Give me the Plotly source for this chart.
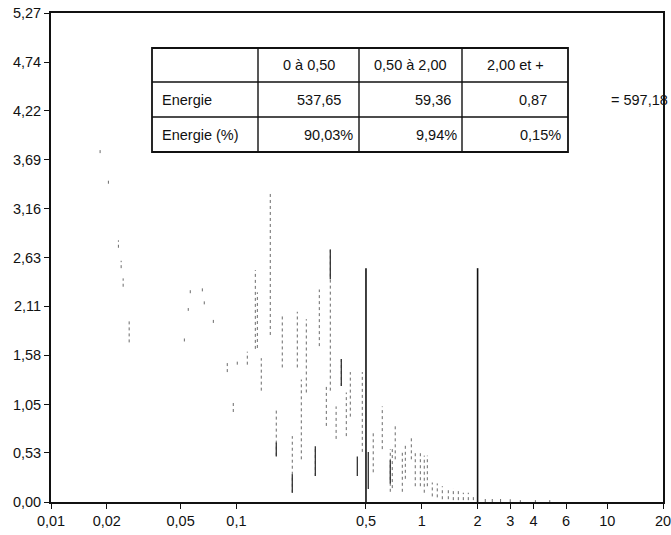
import plotly.graph_objects as go

# ---------------- data ----------------
# faint spectral lines: frequency, low and high value of the visible segment
faint_freq = [0.0184, 0.0204, 0.0231, 0.0239, 0.0245, 0.0264, 0.0524, 0.055, 0.0564,
              0.0655, 0.0671, 0.0751, 0.0893, 0.0962, 0.1011, 0.1145, 0.1265, 0.1297,
              0.1362, 0.1523, 0.1641, 0.1768, 0.2002, 0.2131, 0.2239, 0.2383, 0.2665,
              0.280, 0.3055, 0.321, 0.345, 0.368, 0.3915, 0.4115, 0.4776, 0.547, 0.612,
              0.676, 0.693, 0.719, 0.785, 0.815, 0.878, 0.922, 0.982, 1.031, 1.071,
              1.139, 1.212, 1.29, 1.39, 1.479, 1.574, 1.675, 1.782, 1.897, 2.2, 2.4,
              2.66, 3.0, 3.4, 4.1, 4.9]
faint_lo = [3.76, 3.43, 2.74, 2.52, 2.32, 1.72, 1.73, 2.06, 2.25,
            2.27, 2.13, 1.93, 1.40, 0.97, 1.48, 1.48, 1.65, 1.66,
            1.20, 1.80, 0.50, 1.45, 0.10, 1.45, 0.46, 1.18, 0.28,
            1.68, 0.82, 1.20, 0.68, 1.25, 0.71, 0.92, 0.54, 0.32, 0.57,
            0.11, 0.15, 0.46, 0.11, 0.25, 0.46, 0.17, 0.17, 0.10, 0.17,
            0.06, 0.05, 0.03, 0.03, 0.02, 0.02, 0.02, 0.02, 0.02, 0.00, 0.00,
            0.00, 0.00, 0.00, 0.00, 0.00]
faint_hi = [3.80, 3.47, 2.82, 2.60, 2.41, 1.95, 1.77, 2.09, 2.29,
            2.31, 2.17, 1.98, 1.52, 1.08, 1.53, 1.62, 2.50, 2.26,
            1.55, 3.33, 1.00, 2.00, 0.71, 2.05, 1.32, 1.97, 0.60,
            2.29, 1.25, 2.72, 1.03, 1.54, 1.18, 1.40, 1.40, 0.75, 1.03,
            0.57, 0.57, 0.82, 0.54, 0.62, 0.70, 0.54, 0.54, 0.50, 0.50,
            0.21, 0.20, 0.17, 0.14, 0.15, 0.12, 0.10, 0.10, 0.08, 0.06, 0.04,
            0.04, 0.03, 0.02, 0.02, 0.02]

# dark (dense) parts of the spectral lines
dark_freq = [0.1641, 0.2002, 0.2665, 0.321, 0.368, 0.449, 0.5145, 0.676]
dark_lo = [0.49, 0.10, 0.28, 2.40, 1.25, 0.28, 0.14, 0.20]
dark_hi = [0.64, 0.30, 0.60, 2.72, 1.54, 0.49, 0.54, 0.45]

# band limits drawn as vertical lines
band_edges = [0.5, 2.0]
band_line_height = 2.52

# table contents
bands = ["0 à 0,50", "0,50 à 2,00", "2,00 et +"]
energie = [537.65, 59.36, 0.87]
energie_pct = [90.03, 9.94, 0.15]
energie_total = 597.18

# axis ticks
x_tickvals = [0.01, 0.02, 0.05, 0.1, 0.5, 1, 2, 3, 4, 6, 10, 20]
x_ticktext = ["0,01", "0,02", "0,05", "0,1", "0,5", "1", "2", "3", "4", "6", "10", "20"]
y_tickvals = [0.00, 0.53, 1.05, 1.58, 2.11, 2.63, 3.16, 3.69, 4.22, 4.74, 5.27]
y_ticktext = ["0,00", "0,53", "1,05", "1,58", "2,11", "2,63", "3,16", "3,69", "4,22", "4,74", "5,27"]


def fr(v, d=2):
    return f"{v:.{d}f}".replace(".", ",")


def segments(freqs, los, his):
    xs, ys = [], []
    for f, lo, hi in zip(freqs, los, his):
        xs += [f, f, None]
        ys += [lo, hi, None]
    return xs, ys


fig = go.Figure()

fx, fy = segments(faint_freq, faint_lo, faint_hi)
fig.add_trace(go.Scatter(x=fx, y=fy, mode="lines",
                         line=dict(color="#6a6a6a", width=1, dash="dot"),
                         hoverinfo="skip", showlegend=False))
dx, dy = segments(dark_freq, dark_lo, dark_hi)
fig.add_trace(go.Scatter(x=dx, y=dy, mode="lines",
                         line=dict(color="#333333", width=1.3),
                         hoverinfo="skip", showlegend=False))
bx, by = segments(band_edges, [0] * len(band_edges), [band_line_height] * len(band_edges))
fig.add_trace(go.Scatter(x=bx, y=by, mode="lines",
                         line=dict(color="#111111", width=1.6),
                         hoverinfo="skip", showlegend=False))

# ---------------- layout ----------------
W, H = 671, 535
L, R, T, B = 51, 8, 13, 33
PW, PH = W - L - R, H - T - B


def px(xp):
    return (xp - L) / PW


def py(yp):
    return (H - B - yp) / PH


shapes = []
col_edges = [152, 258, 359, 462, 568]
row_edges = [48, 82, 117, 152]
# outer box
shapes.append(dict(type="rect", xref="paper", yref="paper",
                   x0=px(col_edges[0]), x1=px(col_edges[-1]),
                   y0=py(row_edges[-1]), y1=py(row_edges[0]),
                   line=dict(color="#111111", width=1.8)))
for c in col_edges[1:-1]:
    shapes.append(dict(type="line", xref="paper", yref="paper",
                       x0=px(c), x1=px(c), y0=py(row_edges[-1]), y1=py(row_edges[0]),
                       line=dict(color="#111111", width=1.4)))
for r in row_edges[1:-1]:
    shapes.append(dict(type="line", xref="paper", yref="paper",
                       x0=px(col_edges[0]), x1=px(col_edges[-1]), y0=py(r), y1=py(r),
                       line=dict(color="#111111", width=1.4)))

FONT = "Liberation Sans, Arial, sans-serif"
tf = dict(family=FONT, size=14.5, color="#111111")
ann = []
row_c = [(row_edges[i] + row_edges[i + 1]) / 2 for i in range(3)]
col_c = [(col_edges[i] + col_edges[i + 1]) / 2 for i in range(4)]
for i, b in enumerate(bands):
    ann.append(dict(text=b, x=px(col_c[i + 1]), y=py(row_c[0]), xanchor="center"))
ann.append(dict(text="Energie", x=px(160), y=py(row_c[1]), xanchor="left"))
ann.append(dict(text="Energie (%)", x=px(160), y=py(row_c[2]), xanchor="left"))
num_right = [343, 453, 549]
pct_right = [355, 459, 563]
for i in range(3):
    ann.append(dict(text=fr(energie[i]), x=px(num_right[i]), y=py(row_c[1]), xanchor="right"))
    ann.append(dict(text=fr(energie_pct[i]) + "%", x=px(pct_right[i]), y=py(row_c[2]), xanchor="right"))
ann.append(dict(text="= " + fr(energie_total), x=px(609), y=py(row_c[1]), xanchor="left"))
# last x tick label, partly cut by the page edge as in the original
ann.append(dict(text=x_ticktext[-1], x=1, y=py(521), xanchor="center"))
for a in ann:
    a.update(xref="paper", yref="paper", yanchor="middle", showarrow=False, font=tf)

fig.update_layout(
    width=W, height=H,
    margin=dict(l=L, r=R, t=T, b=B, pad=0, autoexpand=False),
    paper_bgcolor="white", plot_bgcolor="white",
    font=dict(family=FONT, size=14.5, color="#111111"),
    shapes=shapes, annotations=ann,
    xaxis=dict(type="log", range=[-2, 1.30103], tickvals=x_tickvals,
               ticktext=x_ticktext[:-1] + [""],
               ticks="outside", ticklen=5, tickwidth=1.3, tickcolor="#111111",
               showline=True, linecolor="#111111", linewidth=1.8, mirror=True,
               showgrid=False, zeroline=False, tickfont=dict(size=14.5), automargin=False),
    yaxis=dict(range=[0, 5.27], tickvals=y_tickvals, ticktext=y_ticktext,
               ticks="outside", ticklen=5, tickwidth=1.3, tickcolor="#111111",
               showline=True, linecolor="#111111", linewidth=1.8, mirror=True,
               showgrid=False, zeroline=False, tickfont=dict(size=14.5), automargin=False),
)

fig.write_html(
    "out.html",
    config={"displayModeBar": False},
    post_script="document.body.style.margin='0';document.body.style.overflow='hidden';",
)
